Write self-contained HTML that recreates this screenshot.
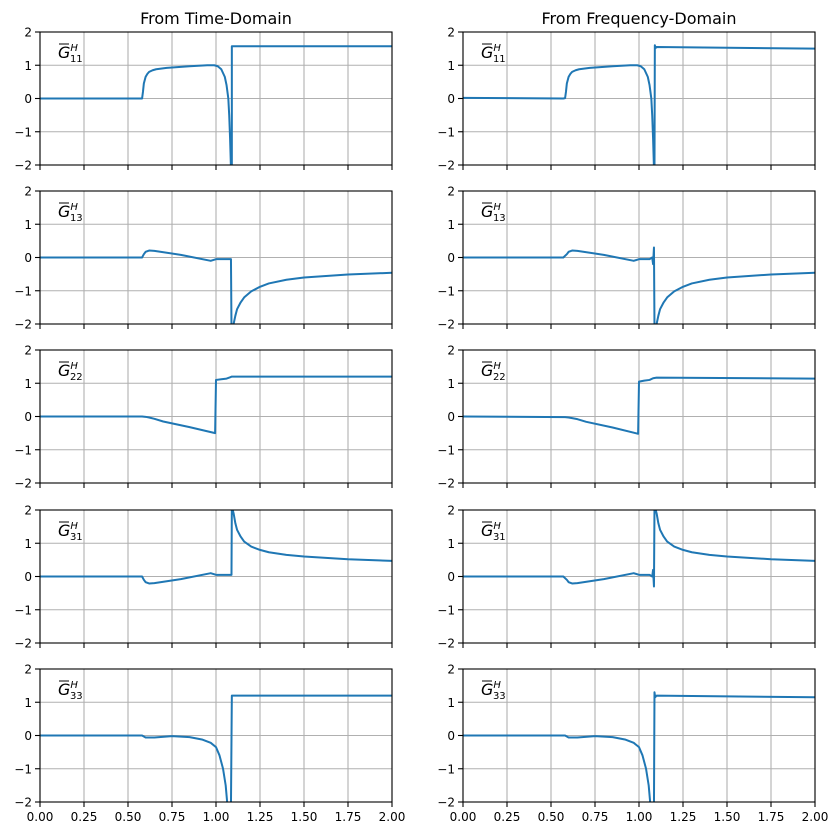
<!DOCTYPE html>
<html><head><meta charset="utf-8"><style>
body{margin:0;background:#fff}
svg{display:block}
text{font-family:"DejaVu Sans","Liberation Sans",sans-serif}
</style></head><body>
<svg id="fig" width="840" height="836" xmlns="http://www.w3.org/2000/svg"></svg>
<script>
const xTicks=[0,0.25,0.5,0.75,1.0,1.25,1.5,1.75,2.0];
const xTickLabels=["0.00","0.25","0.50","0.75","1.00","1.25","1.50","1.75","2.00"];
const yTicks=[-2,-1,0,1,2];
const yTickLabels=["\u22122","\u22121","0","1","2"];
const colTitles=["From Time-Domain","From Frequency-Domain"];
const rowLabels=["11","13","22","31","33"];
const td11x=[0,0.58,0.585,0.59,0.6,0.61,0.62,0.64,0.66,0.72,0.85,0.95,0.99,1.01,1.03,1.05,1.06,1.07,1.075,1.08,1.085,1.09,1.09,2];
const td11y=[0,0,0.2,0.45,0.65,0.74,0.8,0.85,0.88,0.92,0.97,1.0,1.0,0.97,0.88,0.65,0.4,0.0,-0.5,-1.2,-2.1,-2.1,1.57,1.57];
const fd11x=[0,0.57,0.58,0.585,0.59,0.6,0.61,0.62,0.64,0.66,0.72,0.85,0.95,0.99,1.01,1.03,1.05,1.06,1.07,1.075,1.08,1.085,1.088,1.09,1.095,1.1,2];
const fd11y=[0.02,0,0.01,0.2,0.45,0.65,0.74,0.8,0.85,0.88,0.92,0.97,1.0,1.0,0.97,0.88,0.65,0.4,0.0,-0.5,-1.2,-2.1,-2.1,1.6,1.52,1.55,1.5];
const td13x=[0,0.58,0.59,0.6,0.62,0.65,0.8,0.97,1.0,1.085,1.088,1.09,1.1,1.11,1.12,1.14,1.16,1.2,1.25,1.3,1.4,1.5,1.75,2];
const td13y=[0,0,0.1,0.17,0.21,0.2,0.08,-0.1,-0.05,-0.05,-2.1,-2.1,-2.0,-1.75,-1.55,-1.35,-1.2,-1.02,-0.88,-0.78,-0.67,-0.6,-0.51,-0.46];
const fd13x=[0,0.57,0.59,0.6,0.62,0.65,0.8,0.97,1.0,1.06,1.075,1.08,1.085,1.088,1.09,1.1,1.11,1.12,1.14,1.16,1.2,1.25,1.3,1.4,1.5,1.75,2];
const fd13y=[0,0,0.1,0.17,0.21,0.2,0.08,-0.1,-0.05,-0.05,0.0,-0.2,0.3,-2.1,-2.1,-2.0,-1.75,-1.55,-1.35,-1.2,-1.02,-0.88,-0.78,-0.67,-0.6,-0.51,-0.46];
const td22x=[0,0.58,0.6,0.62,0.65,0.7,0.85,0.995,1.0,1.03,1.06,1.08,1.09,2];
const td22y=[0,0,-0.01,-0.03,-0.07,-0.15,-0.32,-0.5,1.1,1.12,1.14,1.18,1.2,1.2];
const fd22x=[0,0.58,0.6,0.62,0.65,0.7,0.85,0.995,1.0,1.03,1.06,1.08,1.1,2];
const fd22y=[0,-0.02,-0.03,-0.05,-0.08,-0.16,-0.33,-0.52,1.05,1.08,1.1,1.15,1.17,1.14];
const td31x=[0,0.58,0.59,0.6,0.62,0.65,0.8,0.97,1.0,1.088,1.09,1.1,1.11,1.12,1.14,1.16,1.2,1.25,1.3,1.4,1.5,1.75,2];
const td31y=[0,0,-0.1,-0.17,-0.21,-0.2,-0.08,0.1,0.05,0.05,2.1,1.9,1.6,1.4,1.2,1.05,0.9,0.8,0.73,0.65,0.6,0.52,0.47];
const fd31x=[0,0.57,0.59,0.6,0.62,0.65,0.8,0.97,1.0,1.06,1.075,1.08,1.085,1.088,1.09,1.1,1.11,1.12,1.14,1.16,1.2,1.25,1.3,1.4,1.5,1.75,2];
const fd31y=[0,0,-0.1,-0.17,-0.21,-0.2,-0.08,0.1,0.05,0.05,0.0,0.2,-0.3,2.1,2.1,1.9,1.6,1.4,1.2,1.05,0.9,0.8,0.73,0.65,0.6,0.52,0.47];
const td33x=[0,0.58,0.6,0.65,0.75,0.85,0.92,0.97,1.0,1.02,1.04,1.055,1.065,1.075,1.085,1.09,2];
const td33y=[0,0,-0.06,-0.06,-0.02,-0.05,-0.12,-0.22,-0.35,-0.6,-1.0,-1.5,-2.1,-2.1,-2.1,1.2,1.2];
const fd33x=[0,0.58,0.6,0.65,0.75,0.85,0.92,0.97,1.0,1.02,1.04,1.055,1.065,1.08,1.085,1.088,1.092,1.1,2];
const fd33y=[0,0,-0.06,-0.06,-0.02,-0.05,-0.12,-0.22,-0.35,-0.6,-1.0,-1.5,-2.1,-2.1,-2.1,1.3,1.15,1.2,1.15];
const series=[[ [td11x,td11y],[fd11x,fd11y] ],[ [td13x,td13y],[fd13x,fd13y] ],[ [td22x,td22y],[fd22x,fd22y] ],[ [td31x,td31y],[fd31x,fd31y] ],[ [td33x,td33y],[fd33x,fd33y] ]];

const NS="http://www.w3.org/2000/svg";
const svg=document.getElementById('fig');
function mk(tag,attrs,parent){const e=document.createElementNS(NS,tag);for(const k in attrs)e.setAttribute(k,attrs[k]);(parent||svg).appendChild(e);return e;}
const colL=[40,463], W=352, H=133, rowT=[32,191,350,510,669];
for(let r=0;r<5;r++)for(let c=0;c<2;c++){
  const L=colL[c],T=rowT[r];
  const sx=v=>L+v/2*W, sy=v=>T+(2-v)/4*H;
  const g=mk('g',{});
  
  
  const cp='cp'+r+c;
  const cl=mk('clipPath',{id:cp},g);mk('rect',{x:L,y:T,width:W,height:H},cl);
  xTicks.forEach((v,i)=>{
    const gl=mk('line',{x1:sx(v),x2:sx(v),y1:T,y2:T+H,stroke:'#b0b0b0','stroke-width':1.1},g);
    
    mk('line',{x1:sx(v),x2:sx(v),y1:T+H,y2:T+H+5,stroke:'#000','stroke-width':1.1},g);
    if(r==4){const t=mk('text',{x:sx(v),y:T+H+19,'font-size':12,'text-anchor':'middle'},g);t.textContent=xTickLabels[i];
      }
  });
  yTicks.forEach((v,i)=>{
    const gl=mk('line',{x1:L,x2:L+W,y1:sy(v),y2:sy(v),stroke:'#b0b0b0','stroke-width':1.1},g);
    
    mk('line',{x1:L-5,x2:L,y1:sy(v),y2:sy(v),stroke:'#000','stroke-width':1.1},g);
    const t=mk('text',{x:L-8,y:sy(v)+4.5,'font-size':12,'text-anchor':'end'},g);t.textContent=yTickLabels[i];
    
  });
  const [xs,ys]=series[r][c];
  const d=xs.map((x,i)=>(i?'L':'M')+sx(x).toFixed(2)+','+sy(ys[i]).toFixed(2)).join(' ');
  const p=mk('path',{d:d,fill:'none',stroke:'#1f77b4','stroke-width':2,'clip-path':'url(#'+cp+')','stroke-linejoin':'round'},g);
  
  const fr=mk('rect',{x:L,y:T,width:W,height:H,fill:'none',stroke:'#000','stroke-width':1.1},g);
  
  const lb=mk('text',{x:L+18,y:T+26,'font-size':16,'font-family':'Liberation Serif, serif','font-style':'italic'},g);
  lb.innerHTML='<tspan>G</tspan><tspan font-size="10" dy="-7">H</tspan><tspan font-size="10" dx="-8" dy="11" font-style="normal">'+rowLabels[r]+'</tspan>';
  
  mk('line',{x1:L+19,x2:L+29,y1:T+12,y2:T+12,stroke:'#000','stroke-width':1},g);
  if(r==0){const t=mk('text',{x:L+W/2,y:T-8,'font-size':16,'text-anchor':'middle'},g);t.textContent=colTitles[c];
    }
}
</script>
</body></html>
